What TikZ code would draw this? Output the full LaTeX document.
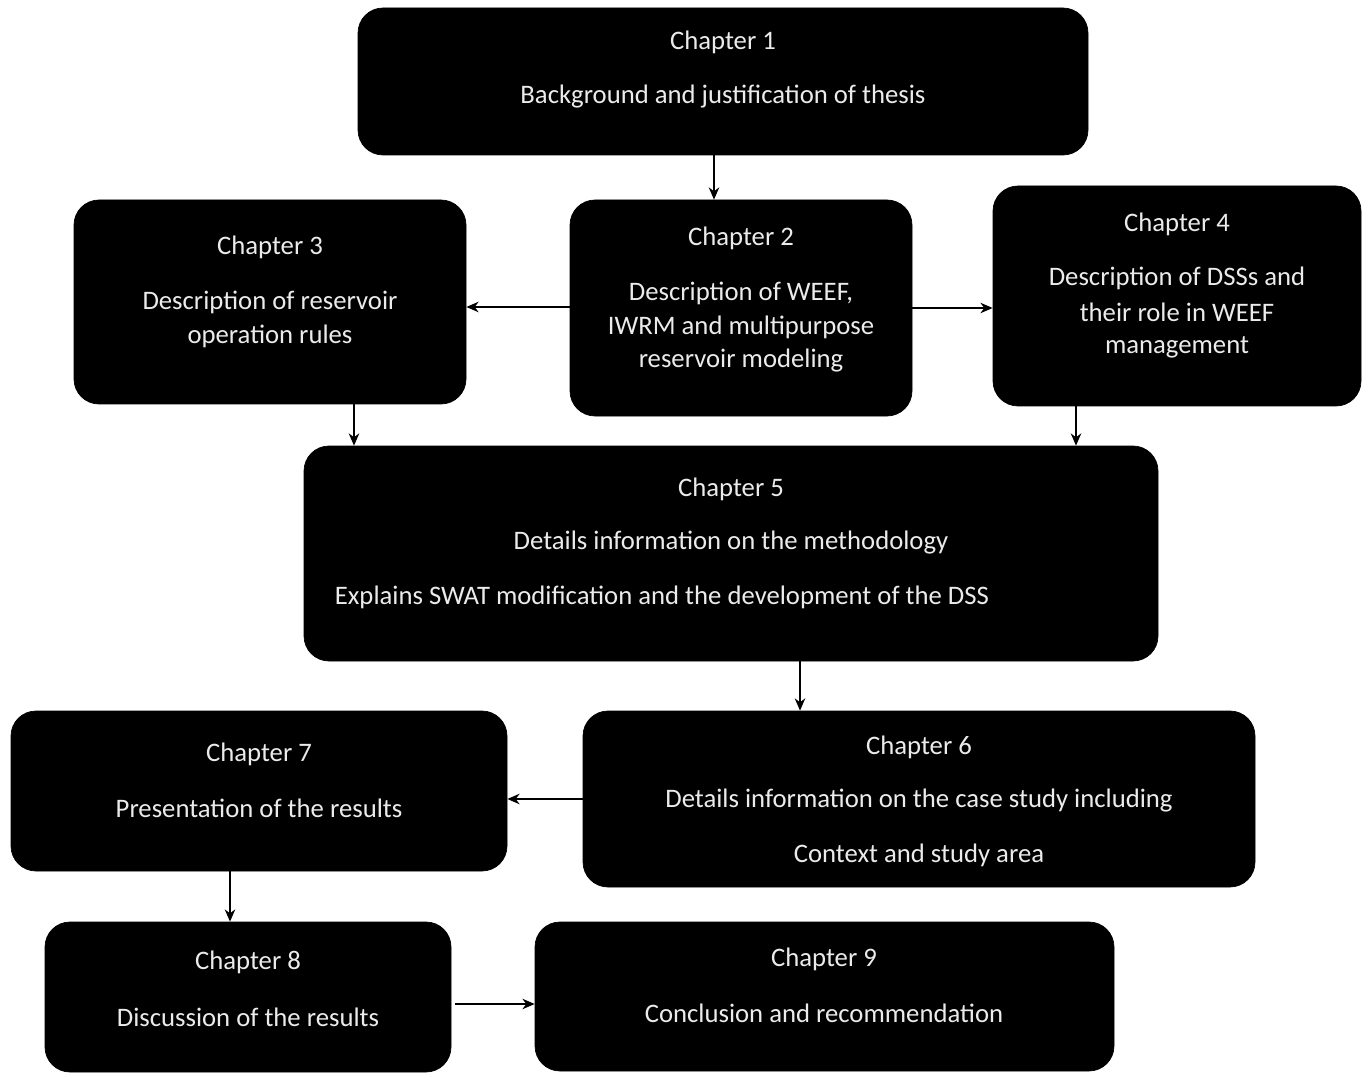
\documentclass[tikz,border=0pt]{standalone}
\usepackage{fontspec}
\setmainfont{Carlito}
\usetikzlibrary{arrows.meta}
\begin{document}
\begin{tikzpicture}[x=0.02cm,y=-0.02cm,
  box/.style={fill=black,draw=black,rounded corners=0.5cm,inner sep=0pt},
  txt/.style={text=white!92!black,font=\fontsize{15.2pt}{18pt}\selectfont,inner sep=0pt,anchor=center},
  arr/.style={-{Stealth[length=7pt,width=6pt]},line width=0.8pt}]
\useasboundingbox (0,0) rectangle (1369,1074);
% boxes
\node[box,minimum width=730*0.02cm,minimum height=147*0.02cm] (c1) at (723,81.5) {};
\node[box,minimum width=392*0.02cm,minimum height=204*0.02cm] (c3) at (270,302) {};
\node[box,minimum width=342*0.02cm,minimum height=216*0.02cm] (c2) at (741,308) {};
\node[box,minimum width=368*0.02cm,minimum height=220*0.02cm] (c4) at (1177,296) {};
\node[box,minimum width=854*0.02cm,minimum height=215*0.02cm] (c5) at (731,553.5) {};
\node[box,minimum width=496*0.02cm,minimum height=160*0.02cm] (c7) at (259,791) {};
\node[box,minimum width=672*0.02cm,minimum height=176*0.02cm] (c6) at (919,799) {};
\node[box,minimum width=406*0.02cm,minimum height=150*0.02cm] (c8) at (248,997) {};
\node[box,minimum width=579*0.02cm,minimum height=149*0.02cm] (c9) at (824.5,996.5) {};
% texts
\node[txt] (t1a) at (723,42) {Chapter 1};
\node[txt] (t1b) at (723,97) {Background and justification of thesis};
\node[txt] (t3a) at (270,247) {Chapter 3};
\node[txt] (t3b) at (270,302) {Description of reservoir};
\node[txt] (t3c) at (270,336) {operation rules};
\node[txt] (t2a) at (741,238) {Chapter 2};
\node[txt] (t2b) at (741,293) {Description of WEEF,};
\node[txt] (t2c) at (741,327) {IWRM and multipurpose};
\node[txt] (t2d) at (741,361) {reservoir modeling};
\node[txt] (t4a) at (1177,224) {Chapter 4};
\node[txt] (t4b) at (1177,278) {Description of DSSs and};
\node[txt] (t4c) at (1177,312) {their role in WEEF};
\node[txt] (t4d) at (1177,347) {management};
\node[txt] (t5a) at (731,489) {Chapter 5};
\node[txt] (t5b) at (731,543) {Details information on the methodology};
\node[txt] (t5c) at (662,597) {Explains SWAT modification and the development of the DSS};
\node[txt] (t7a) at (259,754) {Chapter 7};
\node[txt] (t7b) at (259,808) {Presentation of the results};
\node[txt] (t6a) at (919,747) {Chapter 6};
\node[txt] (t6b) at (919,801) {Details information on the case study including};
\node[txt] (t6c) at (919,855) {Context and study area};
\node[txt] (t8a) at (248,962) {Chapter 8};
\node[txt] (t8b) at (248,1017) {Discussion of the results};
\node[txt] (t9a) at (824,959) {Chapter 9};
\node[txt] (t9b) at (824,1013) {Conclusion and recommendation};
% arrows
\draw[arr] (c1.south -| 714,0) -- (c2.north -| 714,0);
\draw[arr] (c2.west |- 0,307) -- (c3.east |- 0,307);
\draw[arr] (c2.east |- 0,308) -- (c4.west |- 0,308);
\draw[arr] (c3.south -| 354,0) -- (c5.north -| 354,0);
\draw[arr] (c4.south -| 1076,0) -- (c5.north -| 1076,0);
\draw[arr] (c5.south -| 800,0) -- (c6.north -| 800,0);
\draw[arr] (c6.west |- 0,799) -- (c7.east |- 0,799);
\draw[arr] (c7.south -| 230,0) -- (c8.north -| 230,0);
\draw[arr] ([xshift=0.08cm]c8.east |- 0,1004) -- (c9.west |- 0,1004);
\end{tikzpicture}
\end{document}
